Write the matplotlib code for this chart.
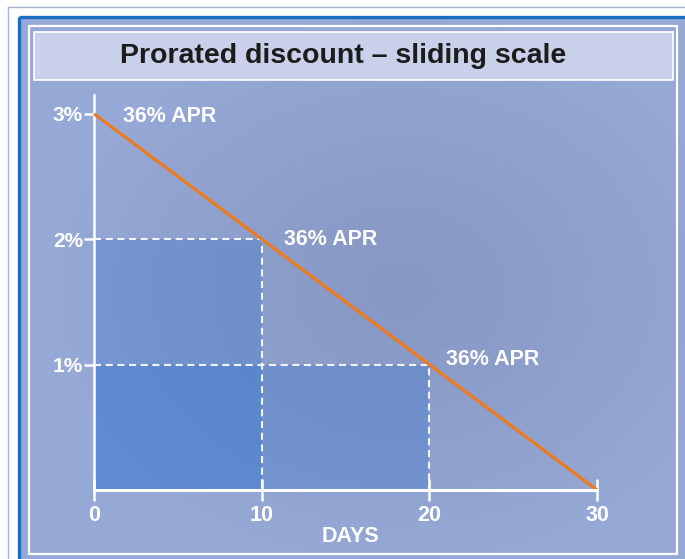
import numpy as np
import matplotlib
matplotlib.use("Agg")
import matplotlib.pyplot as plt
from matplotlib.patches import Rectangle

#discount schedule: full 3% on day 0, falling to nothing on day 30
days = [0, 10, 20, 30]
discount = [3, 2, 1, 0]
apr_labels = ["36% APR", "36% APR", "36% APR"]
x_ticks = [0, 10, 20, 30]
y_ticks = [1, 2, 3]
y_ticklabels = ["1%", "2%", "3%"]
title = "Prorated discount \u2013 sliding scale"
xlabel = "DAYS"

W, H = 685, 559
plt.rcParams['font.family'] = ['Liberation Sans', 'DejaVu Sans']
plt.rcParams['font.weight'] = 'bold'

fig = plt.figure(figsize=(W / 100, H / 100), dpi=100)
fig.patch.set_facecolor('white')

#==============================================================================
# background layer, drawn in pixel units
bg = fig.add_axes([0, 0, 1, 1])
bg.set_xlim(0, W)
bg.set_ylim(H, 0)
bg.axis('off')

yy, xx = np.mgrid[17:H, 19:W]
dist = np.sqrt(((xx - 400) / 340.0) ** 2 + ((yy - 290) / 270.0) ** 2)
t = np.clip(dist, 0, 1)[..., None] ** 1.2
centre = np.array([135, 152, 196]) / 255
edge = np.array([149, 168, 214]) / 255
bg.imshow(centre + (edge - centre) * t, extent=(19, W, H, 17),
          aspect='auto', interpolation='bilinear', zorder=0)

#frame lines round the panel
bg.plot([8, 8], [7, H], color='#a7b3d0', lw=1.0)
bg.plot([8, W], [7, 7], color='#a7b3d0', lw=1.0)
bg.plot([19, 19], [17, H], color='#1b6ec2', lw=2.4, solid_capstyle='butt')
bg.plot([19, W], [17, 17], color='#1b6ec2', lw=2.4, solid_capstyle='butt')
bg.add_patch(Rectangle((29, 26), 648, 528, fill=False, ec='white', lw=1.6))

#title box
bg.add_patch(Rectangle((34, 32), 639, 48, fc='#c9d1ea', ec='white', lw=1.2))
bg.text(343, 56, title, ha='center', va='center', fontsize=20.5,
        color='#1c1c1c')

#==============================================================================
# chart
ax = fig.add_axes([94 / W, (H - 490) / H, (597 - 94) / W, (490 - 95) / H])
ax.set_facecolor('none')
ax.set_xlim(0, 30)
ax.set_ylim(0, 3.15)

#shaded discount blocks and dashed guides
for d, v in zip(days[1:3], discount[1:3]):
    ax.add_patch(Rectangle((0, 0), d, v, fc='#2f70cc', alpha=0.3, lw=0))
    ax.plot([0, d, d], [v, v, 0], color='white', lw=1.5, alpha=0.9,
            ls=(0, (3.4, 2.2)))

ax.plot(days, discount, color='#f07a1e', lw=2.3, clip_on=False,
        solid_capstyle='butt', zorder=4)

label_offsets = [(21, -2), (16, 0), (12, 4)]
for d, v, s, off in zip(days[:3], discount[:3], apr_labels, label_offsets):
    ax.annotate(s, (d, v), xytext=off, textcoords='offset points',
                ha='left', va='center', fontsize=15.5, color='white')

#axes styling
for side in ['top', 'right']:
    ax.spines[side].set_visible(False)
ax.spines['left'].set_color('white')
ax.spines['left'].set_linewidth(1.8)
ax.spines['bottom'].set_color('white')
ax.spines['bottom'].set_linewidth(2.2)
ax.spines['bottom'].set_zorder(5)

ax.set_xticks(x_ticks)
ax.set_xticklabels([str(x) for x in x_ticks])
ax.set_yticks(y_ticks)
ax.set_yticklabels(y_ticklabels)
ax.tick_params(axis='y', direction='out', length=7, width=1.8,
               colors='white', labelsize=15, pad=1)
ax.tick_params(axis='x', direction='inout', length=16, width=1.8,
               colors='white', labelsize=15.5, pad=3)

fig.text(350 / W, 1 - 536 / H, xlabel, ha='center', va='center',
         fontsize=15.5, color='white')

fig.savefig('out.png', dpi=100)
